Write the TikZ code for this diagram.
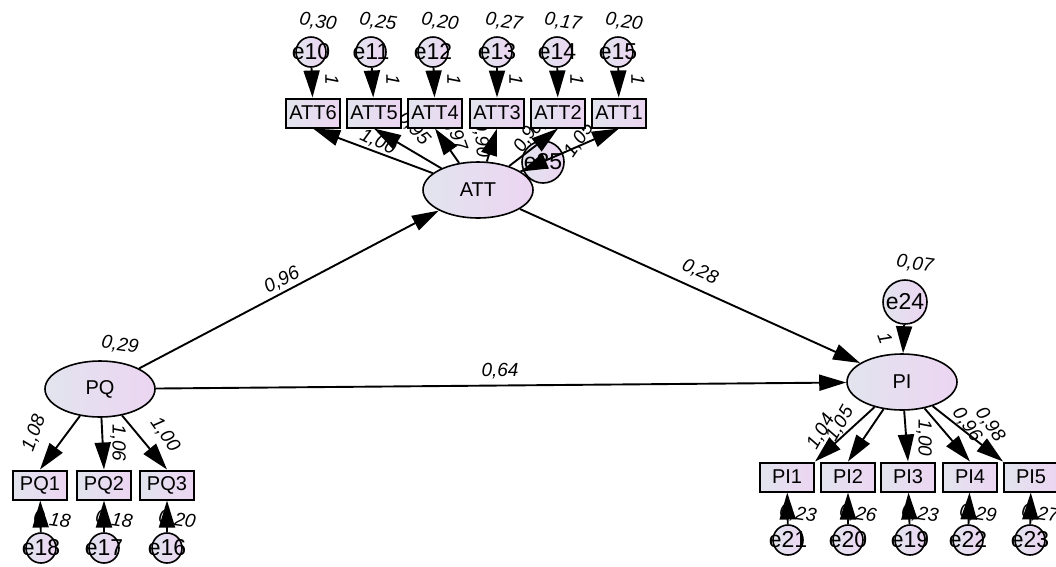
\documentclass[tikz,border=0pt]{standalone}
\usepackage{fontspec}
\setmainfont{Liberation Sans}
\usetikzlibrary{arrows.meta,shapes.geometric}
\definecolor{shL}{RGB}{226,228,238}
\definecolor{shR}{RGB}{236,213,242}
\begin{document}
\begin{tikzpicture}[x=1pt,y=-1pt,
  obs/.style={draw, line width=2pt, rectangle, minimum width=54pt, minimum height=29pt, inner sep=0pt, left color=shL, right color=shR, font=\fontsize{20}{21}\selectfont},
  lat/.style={draw, line width=1.6pt, ellipse, minimum width=110pt, minimum height=56pt, inner sep=0pt, left color=shL, right color=shR, font=\fontsize{20}{21}\selectfont},
  errtxt/.style={font=\fontsize{23}{23}\selectfont, inner sep=0pt},
  err/.style={draw, line width=1.6pt, circle, minimum size=30pt, inner sep=0pt, left color=shL, right color=shR, label={[errtxt]center:#1}},
  bigerr/.style={err=#1, minimum size=44pt},
  arr/.style={line width=1.9pt, -{Triangle[length=27pt,width=16pt]}},
  lbl/.style={font=\itshape\fontsize{19}{20}\selectfont, inner sep=0pt},
  var/.style={lbl, rotate=-8},
]
\useasboundingbox (0,0) rectangle (1056,566);

% ---------- variance / weight labels (drawn first) ----------
\node[var] (v10) at (318,22) {0,30};
\node[var] (v11) at (378,22) {0,25};
\node[var] (v12) at (440,22) {0,20};
\node[var] (v13) at (504,22) {0,27};
\node[var] (v14) at (563,22) {0,17};
\node[var] (v15) at (624,22) {0,20};
\foreach \x/\n in {313/a,374/b,435/c,497/d,558/e,619/f}{
  \node[lbl, rotate=-90] (one\n) at (\x+19,80) {1};
}
\node[var] (v18) at (52,520) {0,18};
\node[var] (v17) at (114,520) {0,18};
\node[var] (v16) at (177,520) {0,20};
\node[var] (v21) at (798,514) {0,23};
\node[var] (v20) at (858,514) {0,26};
\node[var] (v19) at (920,514) {0,23};
\node[var] (v22) at (978,514) {0,29};
\node[var] (v23) at (1040,514) {0,27};
\node[var] (v24) at (915,264) {0,07};
\node[lbl, rotate=-70] (one24) at (885,338) {1};
\node[var] (vPQ) at (120,345) {0,29};

\node[lbl, rotate=-25] (l6) at (378,142) {1,00};
\node[lbl, rotate=-48] (l5) at (414,129) {0,95};
\node[lbl, rotate=-70] (l4) at (455,133) {0,97};
\node[lbl, rotate=-85] (l3) at (481,139) {0,90};
\node[lbl, rotate=58] (l2) at (528,135) {0,94};
\node[lbl, rotate=35] (v25) at (547,120) {0,07};
\node[lbl, rotate=55] (l1) at (579,140) {1,05};

\node[lbl, rotate=28] (lPA) at (282,280) {0,96};
\node[lbl, rotate=-24] (lAP) at (700,272) {0,28};
\node[lbl] (lPP) at (500,371) {0,64};

\node[lbl, rotate=70] (lq1) at (34,433) {1,08};
\node[lbl, rotate=-90] (lq2) at (118,443) {1,06};
\node[lbl, rotate=-55] (lq3) at (165,435) {1,00};

\node[lbl, rotate=60] (lp1) at (821,432) {1,04};
\node[lbl, rotate=60] (lp2) at (840,424) {1,05};
\node[lbl, rotate=-90] (lp3) at (924,438) {1,00};
\node[lbl, rotate=-55] (lp4) at (967,425) {0,96};
\node[lbl, rotate=-55] (lp5) at (990,425) {0,98};

% ---------- latent variables ----------
\node[lat] (ATT) at (478,190) {ATT};
\node[lat] (PQ) at (100,389) {PQ};
\node[lat] (PI) at (902,382) {PI};

% ---------- ATT indicators ----------
\node[obs] (ATT6) at (313,113) {ATT6};
\node[obs] (ATT5) at (374,113) {ATT5};
\node[obs] (ATT4) at (435,113) {ATT4};
\node[obs] (ATT3) at (497,113) {ATT3};
\node[obs] (ATT2) at (558,113) {ATT2};
\node[obs] (ATT1) at (619,113) {ATT1};
\node[err=e10] (e10) at (311,52) {};
\node[err=e11] (e11) at (371,52) {};
\node[err=e12] (e12) at (433,52) {};
\node[err=e13] (e13) at (497,52) {};
\node[err=e14] (e14) at (557,52) {};
\node[err=e15] (e15) at (618,52) {};

% ---------- PQ indicators ----------
\node[obs] (PQ1) at (40,485) {PQ1};
\node[obs] (PQ2) at (104,485) {PQ2};
\node[obs] (PQ3) at (167,485) {PQ3};
\node[err=e18] (e18) at (41,548) {};
\node[err=e17] (e17) at (104,548) {};
\node[err=e16] (e16) at (167,548) {};

% ---------- PI indicators ----------
\node[obs] (PI1) at (787,477) {PI1};
\node[obs] (PI2) at (848,477) {PI2};
\node[obs] (PI3) at (908,477) {PI3};
\node[obs] (PI4) at (970,477) {PI4};
\node[obs] (PI5) at (1031,477) {PI5};
\node[err=e21] (e21) at (788,540) {};
\node[err=e20] (e20) at (848,540) {};
\node[err=e19] (e19) at (910,540) {};
\node[err=e22] (e22) at (968,540) {};
\node[err=e23] (e23) at (1030,540) {};

% ---------- structural disturbances ----------
\node[bigerr=e24] (e24) at (905,302) {};
\node[bigerr=e25, minimum size=42pt] (e25) at (543,162) {};

% ---------- error -> indicator arrows ----------
\foreach \e/\b in {e10/ATT6,e11/ATT5,e12/ATT4,e13/ATT3,e14/ATT2,e15/ATT1,
                   e18/PQ1,e17/PQ2,e16/PQ3,e21/PI1,e20/PI2,e19/PI3,e22/PI4,e23/PI5}{
  \draw[arr] (\e) -- (\b);
}

% ---------- loadings ----------
\draw[arr] (ATT) -- (ATT6.south);
\draw[arr] (ATT) -- (ATT5.south);
\draw[arr] (ATT) -- (ATT4.south);
\draw[arr] (ATT) -- (ATT3.south);
\draw[arr] (ATT) -- (ATT2.south);
\draw[arr] (ATT) -- (ATT1.south);

\draw[arr] (PQ) -- (PQ1.north);
\draw[arr] (PQ) -- (PQ2.north);
\draw[arr] (PQ) -- (PQ3.north);

\draw[arr] (PI) -- (PI1.north east);
\draw[arr] (PI) -- (PI2.north);
\draw[arr] (PI) -- (PI3.north);
\draw[arr] (PI) -- (PI4.north);
\draw[arr] (PI) -- (PI5.north west);

% ---------- structural paths ----------
\draw[arr] (PQ) -- (ATT);
\draw[arr] (PQ) -- (PI);
\draw[arr] (ATT) -- (PI);
\draw[arr] (e24) -- (PI);
\draw[arr] (e25) -- (ATT);
\end{tikzpicture}
\end{document}
